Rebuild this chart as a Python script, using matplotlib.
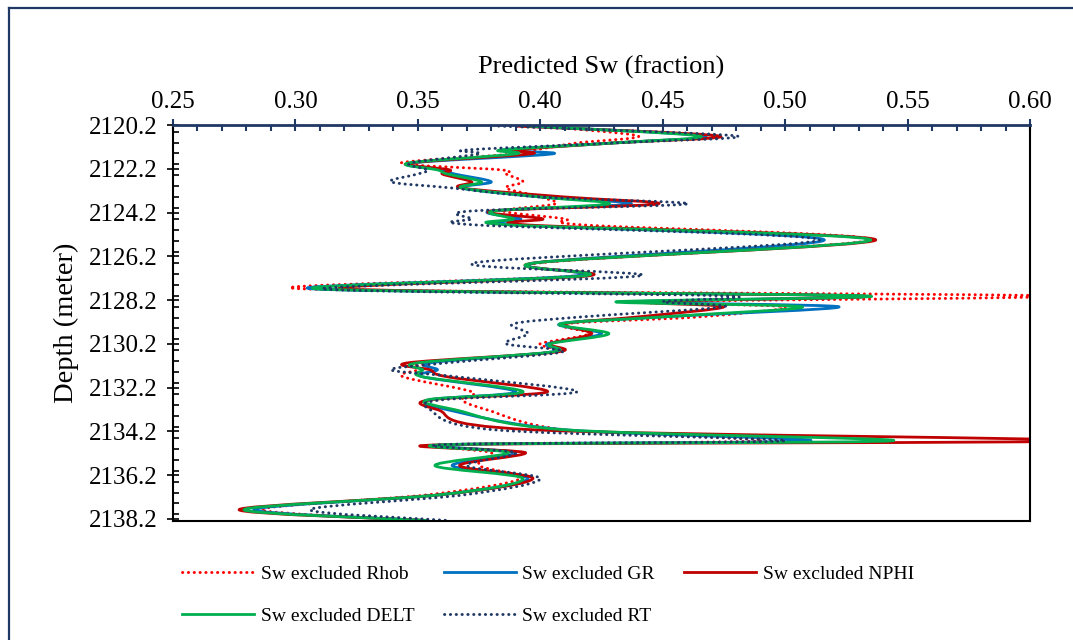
import numpy as np
import matplotlib
matplotlib.use("Agg")
import matplotlib.pyplot as plt
from matplotlib.path import Path
from matplotlib.patches import PathPatch
from matplotlib.lines import Line2D
from matplotlib.ticker import FixedLocator, MultipleLocator

plt.rcParams['font.family'] = ['Liberation Serif', 'DejaVu Serif']

# ---------------- data ----------------
depth = [2120.25, 2120.70, 2121.02, 2121.34, 2121.52, 2121.94, 2122.25, 2122.44, 2122.80,
         2123.08, 2123.49, 2123.81, 2124.13, 2124.49, 2124.77, 2125.45, 2126.50, 2127.09,
         2127.69, 2128.01, 2128.28, 2128.51, 2128.97, 2129.29, 2129.74, 2130.20, 2130.57,
         2131.07, 2131.39, 2131.71, 2132.39, 2132.76, 2133.21, 2134.13, 2134.63, 2134.81,
         2135.18, 2135.77, 2136.36, 2137.09, 2137.78, 2138.28]

sw_rhob = [0.40, 0.44, 0.415, 0.398, 0.39, 0.343, 0.384, 0.386, 0.393, 0.386, 0.40, 0.406,
           0.385, 0.41, 0.418, 0.535,
           0.40, 0.415, 0.303, 0.61, 0.445, 0.50, 0.465, 0.41, 0.42, 0.40, 0.405, 0.353,
           0.35, 0.344, 0.372, 0.368, 0.378, 0.41, 0.49, 0.362, 0.38, 0.375, 0.392, 0.355,
           0.286, 0.355]
sw_gr = [0.395, 0.467, 0.43, 0.385, 0.405, 0.347, 0.36, 0.365, 0.380, 0.368, 0.40, 0.437,
         0.38, 0.392, 0.39, 0.516,
         0.398, 0.415, 0.307, 0.53, 0.44, 0.522, 0.45, 0.408, 0.425, 0.403, 0.405, 0.355,
         0.358, 0.352, 0.39, 0.355, 0.362, 0.41, 0.51, 0.362, 0.39, 0.364, 0.395, 0.36,
         0.283, 0.354]
sw_nphi = [0.39, 0.473, 0.43, 0.39, 0.396, 0.347, 0.363, 0.36, 0.372, 0.368, 0.41, 0.448,
           0.38, 0.401, 0.395, 0.537,
           0.398, 0.42, 0.32, 0.53, 0.444, 0.475, 0.44, 0.41, 0.421, 0.404, 0.407, 0.346,
           0.355, 0.362, 0.403, 0.355, 0.358, 0.397, 0.62, 0.362, 0.394, 0.367, 0.397, 0.36,
           0.277, 0.354]
sw_delt = [0.395, 0.465, 0.43, 0.384, 0.39, 0.346, 0.358, 0.362, 0.376, 0.368, 0.40, 0.428,
           0.381, 0.389, 0.388, 0.535,
           0.398, 0.418, 0.309, 0.533, 0.431, 0.507, 0.45, 0.408, 0.428, 0.404, 0.405, 0.350,
           0.352, 0.352, 0.393, 0.354, 0.365, 0.41, 0.544, 0.362, 0.387, 0.357, 0.393, 0.36,
           0.279, 0.354]
sw_rt = [0.383, 0.48, 0.43, 0.37, 0.375, 0.347, 0.354, 0.35, 0.339, 0.364, 0.40, 0.46,
         0.372, 0.372, 0.374, 0.514,
         0.373, 0.441, 0.311, 0.475, 0.45, 0.475, 0.417, 0.389, 0.395, 0.386, 0.409, 0.362,
         0.339, 0.366, 0.415, 0.36, 0.355, 0.381, 0.50, 0.36, 0.39, 0.37, 0.40, 0.37,
         0.306, 0.363]

series_names = ["Sw excluded Rhob", "Sw excluded GR", "Sw excluded NPHI",
                "Sw excluded DELT", "Sw excluded RT"]
x_ticks = [0.25, 0.30, 0.35, 0.40, 0.45, 0.50, 0.55, 0.60]
y_ticks = [2120.2, 2122.2, 2124.2, 2126.2, 2128.2, 2130.2, 2132.2, 2134.2, 2136.2, 2138.2]

# ---------------- styles ----------------
styles = [
    dict(color="#FF0000", dotted=True),
    dict(color="#0070C0", dotted=False),
    dict(color="#C00000", dotted=False),
    dict(color="#00B050", dotted=False),
    dict(color="#203864", dotted=True),
]
LW_SOLID = 2.0
LW_DOT = 2.1
DOT = (0, (0.1, 1.9))


def smooth_path(xs, ys):
    pts = np.column_stack([np.asarray(xs, float), np.asarray(ys, float)])
    n = len(pts)
    verts = [pts[0]]
    codes = [Path.MOVETO]
    for i in range(n - 1):
        p0 = pts[i - 1] if i > 0 else pts[i]
        p1 = pts[i]
        p2 = pts[i + 1]
        p3 = pts[i + 2] if i + 2 < n else pts[i + 1]
        c1 = p1 + (p2 - p0) / 6.0
        c2 = p2 - (p3 - p1) / 6.0
        verts += [c1, c2, p2]
        codes += [Path.CURVE4] * 3
    return Path(np.array(verts), codes)


fig = plt.figure(figsize=(10.73, 6.40), dpi=100)
ax = fig.add_axes([173 / 1073, 1 - 521 / 640, (1030 - 173) / 1073, (521 - 125) / 640])

all_series = [sw_rhob, sw_gr, sw_nphi, sw_delt, sw_rt]
handles = []
for vals, name, st in zip(all_series, series_names, styles):
    ls = DOT if st["dotted"] else "solid"
    lw = LW_DOT if st["dotted"] else LW_SOLID
    patch = PathPatch(smooth_path(vals, depth), fill=False, edgecolor=st["color"],
                      lw=lw, linestyle=ls, capstyle="round" if st["dotted"] else "butt",
                      joinstyle="round")
    ax.add_patch(patch)
    h = Line2D([], [], color=st["color"], lw=lw, linestyle=ls,
               dash_capstyle="round" if st["dotted"] else "butt", label=name)
    handles.append(h)

ax.set_xlim(0.25, 0.60)
ax.set_ylim(2138.3, 2120.2)

# x axis on top
ax.xaxis.tick_top()
ax.xaxis.set_label_position("top")
ax.xaxis.set_major_locator(FixedLocator(x_ticks))
ax.set_xticklabels([f"{v:.2f}" for v in x_ticks])
ax.xaxis.set_minor_locator(MultipleLocator(0.01))
ax.yaxis.set_major_locator(FixedLocator(y_ticks))
ax.set_yticklabels([f"{v:.1f}" for v in y_ticks])
ax.yaxis.set_minor_locator(MultipleLocator(0.5))

navy = "#1F3864"
ax.tick_params(axis="x", which="major", direction="inout", length=8, width=1.5,
               color=navy, labelsize=18, pad=5, top=True, bottom=False)
ax.tick_params(axis="x", which="minor", direction="in", length=4, width=1.5,
               color=navy, top=True, bottom=False)
ax.tick_params(axis="y", which="major", direction="inout", length=8, width=1.2,
               color="black", labelsize=18, pad=7)
ax.tick_params(axis="y", which="minor", direction="in", length=4, width=1.2, color="black")

for side in ["left", "right", "bottom"]:
    ax.spines[side].set_color("black")
    ax.spines[side].set_linewidth(1.5)
ax.spines["top"].set_color(navy)
ax.spines["top"].set_linewidth(2.0)

ax.set_xlabel("Predicted Sw (fraction)", fontsize=19, labelpad=12)
ax.set_ylabel("Depth (meter)", fontsize=20.5, labelpad=7)

order = [0, 3, 1, 4, 2]
leg = fig.legend([handles[i] for i in order], [series_names[i] for i in order],
                 ncol=3, loc="center", bbox_to_anchor=(548 / 1073, 1 - 595 / 640),
                 frameon=False, fontsize=14, handlelength=3.7, handletextpad=0.35,
                 columnspacing=1.5, labelspacing=1.25)

# outer chart border (left and top visible)
fig.add_artist(Line2D([9 / 1073, 9 / 1073], [0, 1 - 8 / 640], transform=fig.transFigure,
                      color="#1F3864", lw=1.6))
fig.add_artist(Line2D([9 / 1073, 1.0], [1 - 8 / 640, 1 - 8 / 640], transform=fig.transFigure,
                      color="#1F3864", lw=1.6))

fig.savefig("out.png", dpi=100)
